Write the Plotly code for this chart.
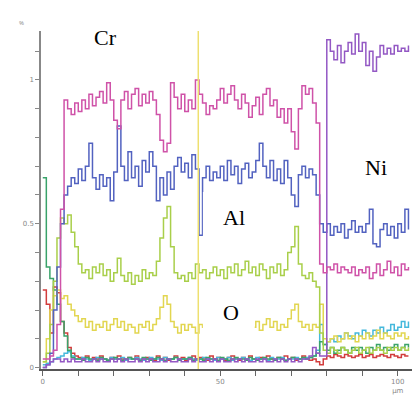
import plotly.graph_objects as go

# distance (µm)
X_UM = list(range(0, 104))

CR = [0.03,0.03,0.04,0.06,0.15,0.55,0.93,0.90,0.88,0.92,
      0.89,0.93,0.90,0.95,0.91,0.94,0.96,0.92,0.99,0.93,
      0.86,0.83,0.93,0.96,0.90,0.95,0.97,0.91,0.95,0.92,
      0.96,0.93,0.88,0.79,0.75,0.78,0.99,0.94,0.90,0.95,
      0.89,0.93,0.90,1.00,0.95,0.92,0.88,0.91,0.90,0.93,
      0.97,0.92,0.95,0.98,0.93,0.90,0.95,0.92,0.87,0.91,
      0.94,0.88,0.95,0.97,0.91,0.93,0.87,0.90,0.85,0.90,
      0.82,0.76,0.90,0.98,0.95,0.97,0.92,0.85,0.36,0.33,
      0.35,0.34,0.36,0.33,0.35,0.34,0.33,0.35,0.32,0.34,
      0.33,0.35,0.31,0.33,0.36,0.32,0.34,0.37,0.33,0.35,
      0.32,0.36,0.34,0.35]

NI = [0.00,0.01,0.02,0.03,0.03,0.02,0.03,0.02,0.03,0.02,
      0.02,0.03,0.02,0.02,0.03,0.02,0.03,0.02,0.02,0.03,
      0.02,0.03,0.02,0.03,0.02,0.02,0.03,0.02,0.03,0.02,
      0.03,0.02,0.02,0.03,0.02,0.03,0.02,0.02,0.03,0.02,
      0.02,0.03,0.02,0.03,0.02,0.02,0.03,0.02,0.03,0.02,
      0.03,0.02,0.02,0.03,0.02,0.03,0.02,0.03,0.02,0.02,
      0.03,0.02,0.03,0.02,0.02,0.03,0.02,0.03,0.02,0.03,
      0.02,0.03,0.02,0.03,0.03,0.04,0.07,0.05,0.04,0.04,
      1.14,1.10,1.07,1.12,1.06,1.10,1.13,1.09,1.16,1.10,
      1.13,1.05,1.10,1.03,1.08,1.12,1.09,1.11,1.09,1.12,
      1.10,1.11,1.10,1.12]

AL = [0.00,0.01,0.05,0.20,0.35,0.50,0.60,0.63,0.66,0.64,
      0.69,0.65,0.70,0.78,0.66,0.62,0.67,0.63,0.66,0.58,
      0.68,0.84,0.70,0.65,0.75,0.66,0.70,0.63,0.72,0.68,
      0.75,0.70,0.58,0.66,0.60,0.68,0.62,0.70,0.73,0.68,
      0.71,0.66,0.74,0.69,0.46,0.66,0.70,0.65,0.68,0.66,
      0.70,0.65,0.72,0.67,0.70,0.64,0.69,0.71,0.66,0.68,
      0.72,0.78,0.70,0.66,0.72,0.65,0.69,0.64,0.72,0.66,
      0.60,0.56,0.67,0.70,0.66,0.69,0.67,0.60,0.50,0.47,
      0.50,0.46,0.49,0.47,0.50,0.45,0.48,0.51,0.47,0.49,
      0.47,0.50,0.55,0.43,0.42,0.48,0.50,0.46,0.49,0.45,
      0.50,0.47,0.55,0.48]

YGREEN = [0.02,0.05,0.15,0.30,0.45,0.52,0.50,0.53,0.47,0.42,
          0.36,0.33,0.34,0.31,0.35,0.33,0.36,0.32,0.34,0.30,
          0.33,0.38,0.32,0.30,0.33,0.29,0.32,0.30,0.34,0.31,
          0.33,0.32,0.37,0.45,0.52,0.56,0.42,0.33,0.31,0.32,
          0.30,0.33,0.31,0.36,0.33,0.34,0.31,0.33,0.35,0.32,
          0.34,0.31,0.35,0.33,0.36,0.32,0.34,0.37,0.33,0.35,
          0.32,0.36,0.34,0.31,0.35,0.33,0.36,0.32,0.34,0.40,
          0.42,0.49,0.36,0.32,0.31,0.33,0.30,0.28,0.12,0.06,
          0.05,0.07,0.06,0.05,0.07,0.06,0.05,0.06,0.07,0.05,
          0.06,0.07,0.05,0.06,0.07,0.06,0.05,0.07,0.06,0.07,
          0.06,0.07,0.06,0.07]

YELLOW = [0.02,0.10,0.20,0.25,0.27,0.24,0.25,0.22,0.20,0.18,
          0.16,0.17,0.14,0.16,0.13,0.15,0.14,0.16,0.13,0.15,
          0.17,0.14,0.16,0.13,0.15,0.14,0.12,0.15,0.14,0.16,
          0.13,0.15,0.17,0.21,0.25,0.22,0.16,0.14,0.12,0.15,
          0.13,0.15,0.14,0.12,0.15,0.14,0.13,0.15,0.14,0.16,
          0.13,0.15,0.14,0.13,0.15,0.14,0.16,0.13,0.15,0.14,
          0.16,0.13,0.15,0.17,0.14,0.16,0.13,0.15,0.14,0.17,
          0.20,0.22,0.16,0.14,0.15,0.13,0.15,0.14,0.22,0.10,
          0.09,0.10,0.11,0.09,0.10,0.12,0.10,0.11,0.09,0.11,
          0.10,0.12,0.10,0.11,0.13,0.10,0.12,0.11,0.10,0.12,
          0.11,0.12,0.10,0.11]

DKGREEN = [0.66,0.35,0.31,0.27,0.22,0.16,0.11,0.06,0.035,0.03,
           0.03,0.025,0.035,0.03,0.03,0.025,0.035,0.03,0.025,0.03,
           0.035,0.03,0.025,0.03,0.035,0.03,0.03,0.025,0.035,0.03,
           0.025,0.03,0.035,0.03,0.025,0.03,0.03,0.035,0.025,0.03,
           0.03,0.035,0.025,0.03,0.03,0.025,0.035,0.03,0.03,0.025,
           0.035,0.03,0.025,0.03,0.035,0.03,0.03,0.025,0.035,0.03,
           0.025,0.03,0.035,0.03,0.03,0.025,0.035,0.03,0.025,0.03,
           0.035,0.03,0.03,0.035,0.03,0.035,0.04,0.05,0.09,0.08,
           0.06,0.07,0.05,0.06,0.07,0.06,0.05,0.07,0.06,0.07,
           0.06,0.05,0.07,0.06,0.08,0.06,0.07,0.06,0.07,0.08,
           0.06,0.07,0.08,0.07]

RED = [0.27,0.22,0.12,0.28,0.26,0.16,0.12,0.07,0.05,0.04,
       0.035,0.03,0.04,0.025,0.035,0.03,0.04,0.03,0.025,0.035,
       0.03,0.04,0.03,0.025,0.035,0.03,0.04,0.025,0.03,0.035,
       0.03,0.025,0.04,0.03,0.035,0.025,0.03,0.04,0.03,0.035,
       0.025,0.03,0.04,0.03,0.035,0.03,0.025,0.04,0.03,0.035,
       0.03,0.025,0.035,0.04,0.03,0.025,0.035,0.03,0.04,0.03,
       0.025,0.035,0.03,0.04,0.03,0.025,0.035,0.03,0.04,0.03,
       0.035,0.025,0.03,0.04,0.03,0.025,0.03,0.02,0.01,0.03,
       0.04,0.035,0.045,0.04,0.035,0.045,0.04,0.035,0.04,0.045,
       0.035,0.04,0.045,0.035,0.04,0.045,0.04,0.035,0.045,0.04,
       0.035,0.045,0.04,0.04]

CYAN = [0.01,0.015,0.02,0.03,0.035,0.04,0.05,0.055,0.04,0.03,
        0.03,0.035,0.03,0.025,0.03,0.035,0.03,0.03,0.025,0.035,
        0.03,0.03,0.035,0.025,0.03,0.03,0.035,0.03,0.025,0.03,
        0.035,0.03,0.03,0.025,0.035,0.03,0.03,0.035,0.025,0.03,
        0.03,0.035,0.03,0.025,0.03,0.035,0.03,0.03,0.025,0.035,
        0.03,0.03,0.035,0.025,0.03,0.03,0.035,0.03,0.025,0.03,
        0.035,0.03,0.03,0.025,0.035,0.03,0.03,0.035,0.025,0.03,
        0.03,0.035,0.03,0.03,0.035,0.035,0.04,0.06,0.15,0.08,
        0.09,0.10,0.09,0.11,0.10,0.12,0.11,0.10,0.12,0.11,
        0.13,0.12,0.11,0.13,0.12,0.14,0.12,0.13,0.15,0.13,
        0.14,0.16,0.14,0.16]

X_TICKS = list(range(0, 101, 10))
X_TICK_TEXT = ["0", "", "", "", "", "50", "", "", "", "", "100<br>µm"]
Y_TICKS = [0, 0.1, 0.2, 0.3, 0.4, 0.5, 0.6, 0.7, 0.8, 0.9, 1.0, 1.1]
Y_TICK_TEXT = ["0", "", "", "", "", "0.5", "", "", "", "", "1", ""]

CURSOR_UM = 43.8

series = [
    ("red", RED, "#d23c3c"),
    ("cyan", CYAN, "#45b8dc"),
    ("dkgreen", DKGREEN, "#3aa36a"),
    ("O", YELLOW, "#e2d650"),
    ("ygreen", YGREEN, "#a9cf4a"),
    ("Al", AL, "#5262c0"),
    ("Ni", NI, "#9358c4"),
    ("Cr", CR, "#cf52a8"),
]

fig = go.Figure()
for name, vals, col in series:
    fig.add_trace(go.Scatter(x=X_UM, y=vals, mode="lines", name=name,
                             line=dict(color=col, width=1.5, shape="hv"),
                             showlegend=False))

# cursor line
fig.add_shape(type="line", xref="x", yref="paper", x0=CURSOR_UM, x1=CURSOR_UM,
              y0=0, y1=1, line=dict(color="#eee070", width=1.5), layer="above")

# white label boxes
fig.add_shape(type="rect", xref="x", yref="y", x0=45.1, x1=67.3, y0=0.397, y1=0.61,
              fillcolor="white", line=dict(width=0), layer="above")
fig.add_shape(type="rect", xref="x", yref="y", x0=45.1, x1=59.7, y0=0.114, y1=0.283,
              fillcolor="white", line=dict(width=0), layer="above")

lab_font = dict(family="Liberation Serif", size=22, color="black")
for txt, xx, yy in [("Cr", 17.7, 1.148), ("Ni", 93.8, 0.697), ("Al", 53.8, 0.521), ("O", 53.0, 0.19)]:
    fig.add_annotation(x=xx, y=yy, xref="x", yref="y", text=txt, showarrow=False,
                       font=lab_font, xanchor="center", yanchor="middle")

fig.add_annotation(x=-0.065, y=1.04, xref="paper", yref="paper", text="%", showarrow=False,
                   font=dict(size=6, color="#888"))

fig.update_layout(
    width=415, height=398,
    margin=dict(l=41, r=3, t=31, b=27),
    paper_bgcolor="white", plot_bgcolor="white",
    xaxis=dict(range=[-0.5, 104], showgrid=False, zeroline=False, showline=True,
               linecolor="#555", linewidth=1.5, ticks="outside", ticklen=5,
               tickcolor="#666", tickvals=X_TICKS, ticktext=X_TICK_TEXT,
               tickfont=dict(size=7, color="#888", family="DejaVu Sans")),
    yaxis=dict(range=[-0.005, 1.17], showgrid=False, zeroline=False, showline=True,
               linecolor="#888", linewidth=1.5, ticks="outside", ticklen=4,
               tickcolor="#888", tickvals=Y_TICKS, ticktext=Y_TICK_TEXT,
               tickfont=dict(size=7, color="#888", family="DejaVu Sans")),
)

fig.write_html("out.html", config={"displayModeBar": False})

# remove the browser's default page margin so the figure sits at the window's corner
with open("out.html", "r", encoding="utf-8") as f:
    html = f.read()
html = html.replace("<body>", '<body style="margin:0;padding:0;overflow:hidden">', 1)
with open("out.html", "w", encoding="utf-8") as f:
    f.write(html)
